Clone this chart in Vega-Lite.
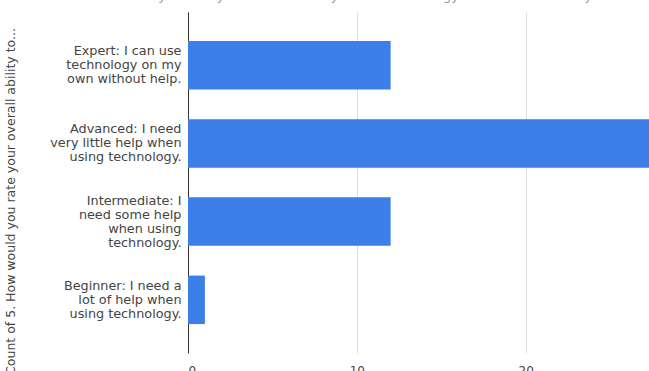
{
  "$schema": "https://vega.github.io/schema/vega-lite/v6.json",
  "width": 461,
  "height": 341,
  "autosize": {"type": "none"},
  "padding": {"left": 188, "top": 12, "right": 0, "bottom": 18},
  "background": "white",
  "title": {
    "text": "Count of 5. How would you rate your overall ability to use technology? vs. 5. How would you rate your overall ability to use technology?",
    "font": "DejaVu Sans",
    "fontSize": 13,
    "fontWeight": "normal",
    "color": "#999999",
    "anchor": "start",
    "frame": "group",
    "baseline": "bottom",
    "offset": 0,
    "dy": 3.5,
    "dx": -181,
    "limit": 638
  },
  "data": {
    "values": [
      {"level": "Expert: I can use|technology on my|own without help.", "count": 12},
      {"level": "Advanced: I need|very little help when|using technology.", "count": 28},
      {"level": "Intermediate: I|need some help|when using|technology.", "count": 12},
      {"level": "Beginner: I need a|lot of help when|using technology.", "count": 1}
    ]
  },
  "mark": {"type": "bar", "color": "#3d7fe9"},
  "encoding": {
    "y": {
      "field": "level",
      "type": "nominal",
      "sort": null,
      "scale": {"paddingInner": 0.38, "paddingOuter": 0.37},
      "axis": {
        "title": "Count of 5. How would you rate your overall ability to...",
        "titleFont": "DejaVu Sans",
        "titleFontSize": 12.5,
        "titleFontWeight": "normal",
        "titleColor": "#444444",
        "titleX": -178,
        "titleY": 189,
        "titleAngle": -90,
        "titleAlign": "center",
        "titleBaseline": "middle",
        "labelExpr": "split(datum.label, '|')",
        "labelFont": "DejaVu Sans",
        "labelFontSize": 12.8,
        "labelColor": "#444444",
        "labelLineHeight": 14,
        "labelOffset": {"condition": {"test": "indexof(datum.value, 'Intermediate') == 0", "value": -21}, "value": -14},
        "labelPadding": 7,
        "labelLimit": 200,
        "ticks": false,
        "domainColor": "#333333",
        "domainWidth": 1
      }
    },
    "x": {
      "field": "count",
      "type": "quantitative",
      "scale": {"domain": [0, 27.3], "nice": false},
      "axis": {
        "title": null,
        "values": [0, 10, 20],
        "domain": false,
        "ticks": false,
        "grid": true,
        "gridColor": "#dddddd",
        "labelFont": "DejaVu Sans",
        "labelFontSize": 12,
        "labelColor": "#444444",
        "labelPadding": 12
      }
    }
  },
  "config": {"view": {"stroke": null}}
}
